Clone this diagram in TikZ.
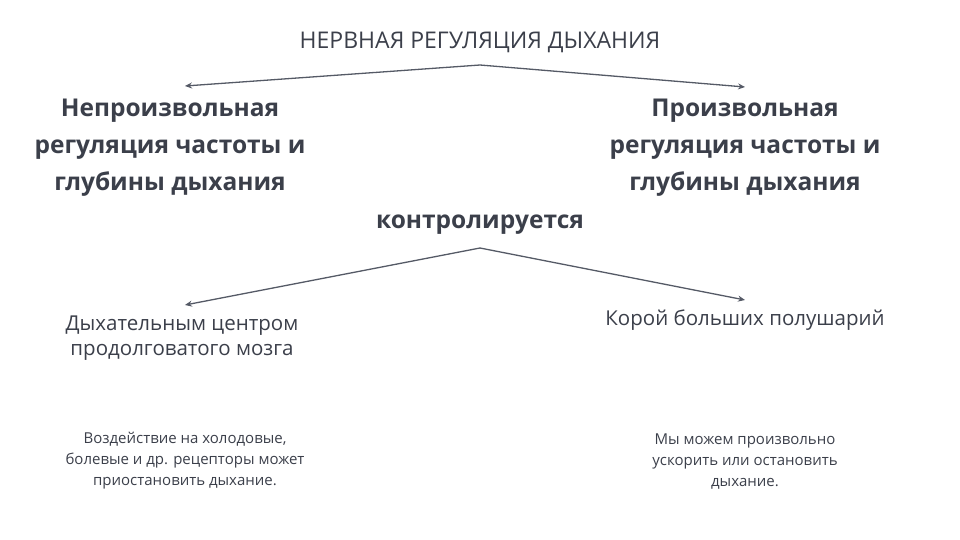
\documentclass[tikz,border=0pt]{standalone}
\usepackage{fontspec}
\usetikzlibrary{arrows.meta}
\setmainfont{Open Sans}
\definecolor{txt}{HTML}{3B3F4A}
\definecolor{ln}{HTML}{555A66}
\begin{document}
\begin{tikzpicture}[x=1pt,y=-1pt,
  big/.style={text=txt,font=\fontsize{24.5}{37}\selectfont\bfseries,align=center},
  mid/.style={text=txt,font=\fontsize{20.5}{25}\selectfont,align=center},
  sm/.style={text=txt,font=\fontsize{15}{21}\selectfont,align=center},
  arr/.style={draw=ln,line width=1.3pt,-{Stealth[length=7pt,width=6pt]}}]
\useasboundingbox (0,0) rectangle (960,540);
\node[text=txt,font=\fontsize{23}{26}\selectfont] (t) at (480,42) {НЕРВНАЯ РЕГУЛЯЦИЯ ДЫХАНИЯ};
\coordinate (a1) at (480,65);
\coordinate (l1) at (185,86);
\coordinate (r1) at (745,87);
\draw[arr] (a1) -- (l1);
\draw[arr] (a1) -- (r1);
\node[big] (L) at (170,148) {Непроизвольная\\регуляция частоты и\\глубины дыхания};
\node[big] (R) at (745,148) {Произвольная\\регуляция частоты и\\глубины дыхания};
\node[big] (k) at (480,225) {контролируется};
\coordinate (a2) at (480,248);
\coordinate (l2) at (185,305);
\coordinate (r2) at (745,300);
\draw[arr] (a2) -- (l2);
\draw[arr] (a2) -- (r2);
\node[mid] (m1) at (182,338) {Дыхательным центром\\продолговатого мозга};
\node[mid] (m2) at (745,320) {Корой больших полушарий};
\node[sm] (s1) at (185,461) {Воздействие на холодовые,\\болевые и др. рецепторы может\\приостановить дыхание.};
\node[sm] (s2) at (745,462) {Мы можем произвольно\\ускорить или остановить\\дыхание.};
\end{tikzpicture}
\end{document}
